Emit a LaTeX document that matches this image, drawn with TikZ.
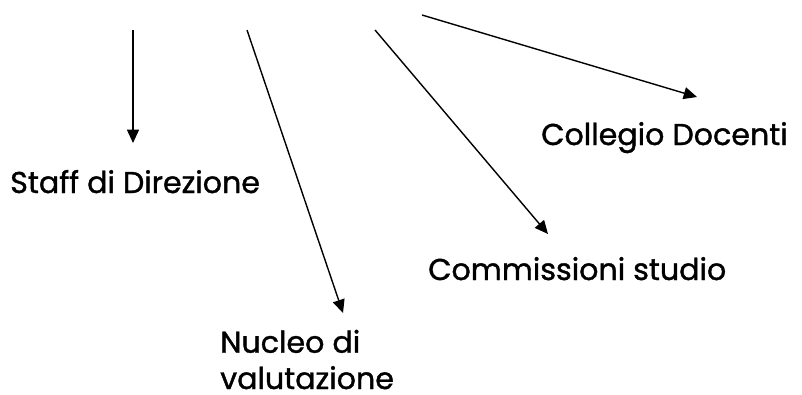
\documentclass[tikz,border=0pt]{standalone}
\usepackage{fontspec}
\setmainfont{Poppins}[FakeBold=1.2]
\usetikzlibrary{arrows.meta}
\tikzset{
  lbl/.style={anchor=base west, inner sep=0pt, font=\fontsize{22.6}{27.2}\selectfont},
  conn/.style={line width=1.05pt, -{Triangle[length=10pt,width=9pt]}}
}
\begin{document}
\begin{tikzpicture}[x=0.75pt,y=-0.75pt]
\useasboundingbox (0,0) rectangle (802,394);
\node[lbl] (staff) at (10,193) {Staff di Direzione};
\node[lbl] (coll) at (541,145) {Collegio Docenti};
\node[lbl] (comm) at (428,280) {Commissioni studio};
\node[lbl, align=left] (nuc) at (220,389) {Nucleo di\\valutazione};
\coordinate (s1) at (133,30);
\coordinate (s2) at (247,30);
\coordinate (s3) at (375,30);
\coordinate (s4) at (422,15);
\coordinate (t1) at (133,143);
\coordinate (t2) at (343,313);
\coordinate (t3) at (548,234);
\coordinate (t4) at (697,97);
\draw[conn] (s1) -- (t1);
\draw[conn] (s2) -- (t2);
\draw[conn] (s3) -- (t3);
\draw[conn] (s4) -- (t4);
\end{tikzpicture}
\end{document}
